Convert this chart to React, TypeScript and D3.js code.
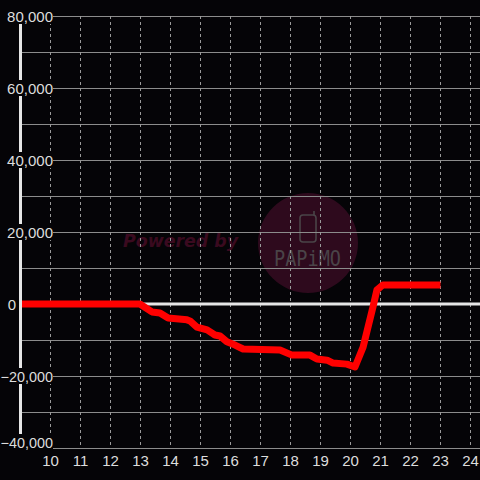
import React from "react";
import * as d3 from "d3";

const hours = [9.0, 12.88, 12.98, 13.38, 13.65, 13.92, 14.55, 14.65, 14.88, 15.22, 15.48, 15.65, 15.88, 16.15, 16.42, 17.65, 18.05, 18.65, 18.88, 19.22, 19.42, 19.88, 20.15, 20.42, 20.75, 20.88, 21.08, 23.0];
const values = [0, 0, 0, -2200, -2500, -3900, -4400, -4700, -6400, -7200, -8600, -8900, -10500, -11400, -12500, -12800, -14200, -14200, -15300, -15600, -16400, -16700, -17500, -12000, -800, 3900, 5300, 5300];
const xTicks = [10, 11, 12, 13, 14, 15, 16, 17, 18, 19, 20, 21, 22, 23, 24];
const yMajor = [80000, 60000, 40000, 20000, 0, -20000, -40000];
const yMinor = [70000, 50000, 30000, 10000, -10000, -30000];

const W = 480, H = 480;

export default function App() {
  const x = d3.scaleLinear().domain([9, 24]).range([20.5, 470.5]);
  const y = d3.scaleLinear().domain([-40000, 80000]).range([448, 16]);
  const fmt = d3.format(",");
  const pts: [number, number][] = hours.map((h, i) => [h, values[i]]);
  const line = d3.line<[number, number]>().x(d => x(d[0])).y(d => y(d[1]));
  const bg = "#050407";
  return (
    <svg width={W} height={H} style={{ position: "absolute", left: 0, top: 0, background: bg }}>
      <rect x={0} y={0} width={W} height={H} fill={bg} />
      {/* watermark */}
      <text x={123} y={247} fontFamily="DejaVu Sans, sans-serif" fontWeight="bold" fontStyle="italic" fontSize={17.5} fill="#3a0a1f" textLength={115} lengthAdjust="spacingAndGlyphs">Powered by</text>
      <circle cx={308} cy={243} r={50} fill="#2e0a1d" />
      <rect x={300} y={215} width={16} height={27} rx={3} fill="none" stroke="#4a4448" strokeWidth={1.6} />
      <line x1={314} y1={215} x2={314} y2={211} stroke="#4a4448" strokeWidth={1.6} />
      <text x={274} y={266} fontFamily="DejaVu Sans Mono, monospace" fontSize={21} fill="#4a4448" textLength={67} lengthAdjust="spacingAndGlyphs">PAPiMO</text>
      {/* horizontal grid */}
      {[...yMajor, ...yMinor].filter(v => v !== 0).map(v => (
        <line key={"h" + v} x1={21} x2={W} y1={y(v) + 0.5} y2={y(v) + 0.5} stroke="#8c8c8c" strokeWidth={1} />
      ))}
      {/* vertical dashed grid */}
      {xTicks.map(t => (
        <line key={"v" + t} x1={x(t)} x2={x(t)} y1={16} y2={448} stroke="#9a9a9a" strokeWidth={1} strokeDasharray="3,3" />
      ))}
      {/* zero line */}
      <line x1={21} x2={W} y1={y(0)} y2={y(0)} stroke="#e6e6e6" strokeWidth={3} />
      {/* data line */}
      <path d={line(pts) || ""} fill="none" stroke="#ff0000" strokeWidth={7} strokeLinejoin="round" />
      {/* y axis bar */}
      <line x1={20.5} x2={20.5} y1={16} y2={448} stroke="#e6e6e6" strokeWidth={3} />
      {/* y labels */}
      {yMajor.map(v => {
        const isZero = v === 0;
        const isBottom = v === -40000;
        const cy = isBottom ? y(v) - 6 : y(v);
        return (
          <g key={"yl" + v}>
            <rect x={0} y={cy - 8} width={isZero ? 17 : 53} height={isBottom ? 17 : 16} fill={bg} />
            <text x={isZero ? 16 : 53} y={cy + 5.5} textAnchor="end" fontFamily="Liberation Sans, Arial, sans-serif" fontSize={v < 0 ? 14.4 : 15} fill="#dddddd">{fmt(v)}</text>
          </g>
        );
      })}
      {/* x labels */}
      {xTicks.map(t => (
        <text key={"xl" + t} x={x(t)} y={466} textAnchor="middle" fontFamily="Liberation Sans, Arial, sans-serif" fontSize={15} fill="#dddddd">{t}</text>
      ))}
    </svg>
  );
}
